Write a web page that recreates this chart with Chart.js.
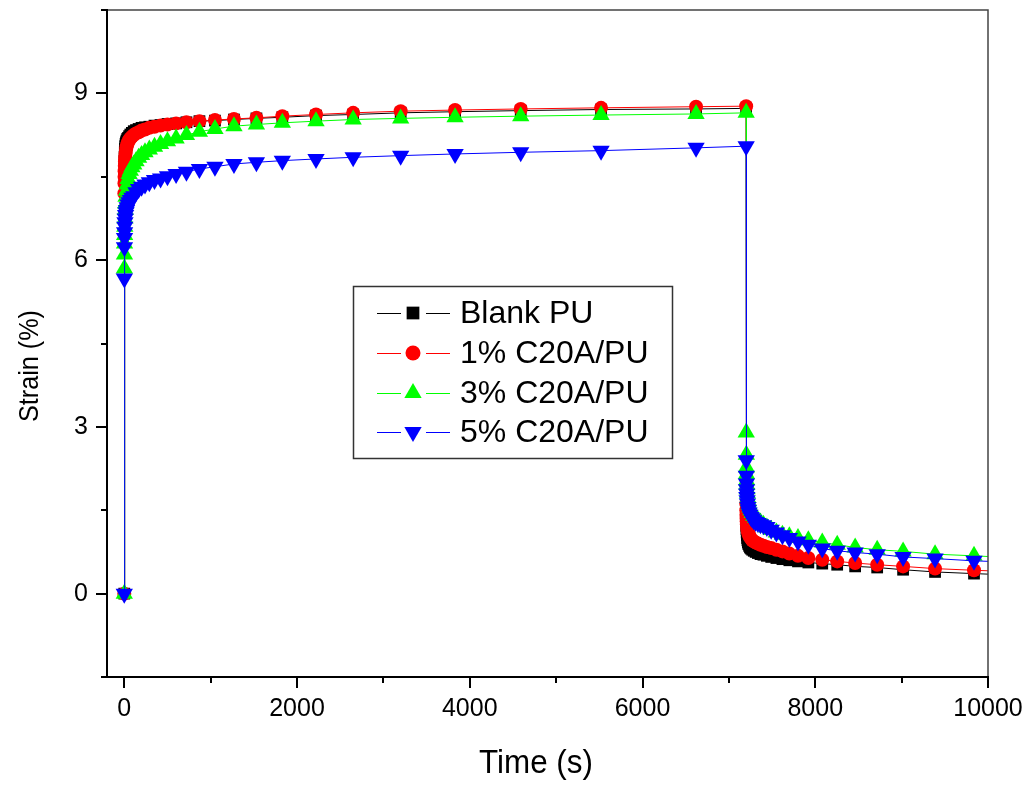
<!DOCTYPE html>
<html><head><meta charset="utf-8">
<script src="https://cdn.jsdelivr.net/npm/chart.js@4.4.0/dist/chart.umd.min.js"></script>
<style>html,body{margin:0;padding:0;background:#fff;}#wrap{position:relative;width:1031px;height:787px;}</style>
</head><body><div id="wrap"><canvas id="c" width="1031" height="787"></canvas></div>
<script>
// ---- data ----
const creepTimes = [0, 1, 2, 3, 4, 6, 8, 11, 15, 20, 26, 34, 44, 56, 70, 88, 110, 136, 166, 200, 240, 290, 350, 420, 500, 600, 720, 870, 1050, 1270, 1530, 1830, 2220, 2650, 3200, 3830, 4590, 5520, 6620, 7200];
const recoveryTimes = [7201, 7202, 7203, 7204, 7206, 7208, 7211, 7215, 7220, 7226, 7234, 7244, 7256, 7270, 7288, 7310, 7336, 7366, 7400, 7440, 7490, 7550, 7620, 7700, 7800, 7920, 8081, 8254, 8462, 8717, 9017, 9387, 9838, 10370];

const seriesNames = ['Blank PU', '1% C20A/PU', '3% C20A/PU', '5% C20A/PU'];

const blankCreep = [0, 7.45, 7.65, 7.78, 7.86, 7.94, 8.0, 8.05, 8.09, 8.12, 8.15, 8.18, 8.2, 8.23, 8.26, 8.29, 8.32, 8.34, 8.36, 8.38, 8.39, 8.4, 8.42, 8.43, 8.45, 8.46, 8.48, 8.5, 8.51, 8.53, 8.55, 8.57, 8.6, 8.62, 8.65, 8.67, 8.69, 8.71, 8.72, 8.73];
const blankRecovery = [1.4, 1.3, 1.22, 1.16, 1.1, 1.05, 1.0, 0.96, 0.92, 0.89, 0.86, 0.83, 0.81, 0.79, 0.77, 0.75, 0.73, 0.71, 0.7, 0.68, 0.66, 0.64, 0.62, 0.6, 0.58, 0.56, 0.54, 0.52, 0.49, 0.47, 0.43, 0.39, 0.36, 0.33];

const c1Creep = [0, 7.2, 7.38, 7.5, 7.6, 7.7, 7.78, 7.85, 7.92, 7.98, 8.03, 8.08, 8.12, 8.16, 8.19, 8.22, 8.25, 8.28, 8.3, 8.33, 8.35, 8.38, 8.4, 8.42, 8.44, 8.46, 8.48, 8.5, 8.52, 8.54, 8.56, 8.59, 8.62, 8.65, 8.68, 8.7, 8.72, 8.74, 8.76, 8.77];
const c1Recovery = [1.62, 1.5, 1.42, 1.36, 1.3, 1.25, 1.2, 1.16, 1.12, 1.08, 1.05, 1.02, 0.99, 0.96, 0.94, 0.92, 0.9, 0.88, 0.86, 0.84, 0.82, 0.79, 0.76, 0.72, 0.68, 0.64, 0.61, 0.58, 0.55, 0.52, 0.49, 0.45, 0.42, 0.39];

const c3Creep = [0, 5.85, 6.1, 6.3, 6.45, 6.6, 6.75, 6.9, 7.02, 7.14, 7.25, 7.36, 7.46, 7.55, 7.61, 7.67, 7.72, 7.78, 7.84, 7.89, 7.94, 7.99, 8.04, 8.09, 8.14, 8.19, 8.25, 8.31, 8.36, 8.41, 8.44, 8.47, 8.5, 8.53, 8.55, 8.57, 8.59, 8.61, 8.63, 8.65];
const c3Recovery = [2.9, 2.5, 2.27, 2.15, 2.04, 1.96, 1.88, 1.8, 1.72, 1.66, 1.6, 1.55, 1.5, 1.45, 1.4, 1.36, 1.32, 1.28, 1.24, 1.19, 1.15, 1.1, 1.06, 1.03, 1.0, 0.96, 0.92, 0.88, 0.83, 0.79, 0.76, 0.71, 0.68, 0.64];

const c5Creep = [0, 5.67, 6.23, 6.4, 6.5, 6.6, 6.68, 6.75, 6.81, 6.86, 6.9, 6.95, 7.0, 7.04, 7.08, 7.12, 7.15, 7.22, 7.28, 7.32, 7.36, 7.4, 7.44, 7.47, 7.51, 7.55, 7.59, 7.64, 7.68, 7.73, 7.76, 7.79, 7.82, 7.85, 7.88, 7.91, 7.94, 7.97, 8.02, 8.05];
const c5Recovery = [2.4, 2.12, 1.98, 1.88, 1.8, 1.74, 1.68, 1.62, 1.56, 1.51, 1.46, 1.42, 1.38, 1.35, 1.32, 1.29, 1.27, 1.25, 1.23, 1.2, 1.15, 1.1, 1.05, 1.0, 0.94, 0.88, 0.81, 0.77, 0.74, 0.71, 0.66, 0.63, 0.59, 0.56];

const xTickLabels = [0, 2000, 4000, 6000, 8000, 10000];
const xMinorTicks = [1000, 3000, 5000, 7000, 9000];
const yTickLabels = [0, 3, 6, 9];
const yMinorTicks = [-1.5, 1.5, 4.5, 7.5, 10.5];

// ---- build ----
const FONT = "'Liberation Sans', Arial, Helvetica, sans-serif";
const TARGET = {left: 107, top: 10, right: 988, bottom: 677};
const allTimes = creepTimes.concat(recoveryTimes);
function pts(creep, rec) { const v = creep.concat(rec); return allTimes.map((t, i) => ({x: t, y: v[i]})); }

const styles = [
  {color: '#000000', pointStyle: 'rect', radius: 8.3, legendRadius: 9, rotation: 0, order: 4},
  {color: '#ff0000', pointStyle: 'circle', radius: 7, legendRadius: 7.5, rotation: 0, order: 3},
  {color: '#00ff00', pointStyle: 'triangle', radius: 10, legendRadius: 10, rotation: 0, order: 2},
  {color: '#0000ff', pointStyle: 'triangle', radius: 10, legendRadius: 10, rotation: 180, order: 1}
];
const seriesData = [pts(blankCreep, blankRecovery), pts(c1Creep, c1Recovery), pts(c3Creep, c3Recovery), pts(c5Creep, c5Recovery)];

const datasets = seriesNames.map((name, i) => ({
  label: name,
  data: seriesData[i],
  showLine: true,
  borderColor: styles[i].color,
  backgroundColor: styles[i].color,
  borderWidth: 1,
  pointStyle: styles[i].pointStyle,
  pointRotation: styles[i].rotation,
  pointRadius: styles[i].radius,
  pointBorderWidth: 0,
  pointBackgroundColor: styles[i].color,
  pointHoverRadius: styles[i].radius,
  order: styles[i].order,
  tension: 0
}));

const decorPlugin = {
  id: 'decor',
  afterDraw(chart) {
    const ctx = chart.ctx, a = chart.chartArea, xs = chart.scales.x, ys = chart.scales.y;
    ctx.save();
    // frame
    ctx.strokeStyle = '#444'; ctx.lineWidth = 1.5;
    ctx.beginPath(); ctx.moveTo(a.left, a.top); ctx.lineTo(a.right, a.top); ctx.lineTo(a.right, a.bottom); ctx.stroke();
    ctx.strokeStyle = '#000'; ctx.lineWidth = 2;
    ctx.beginPath(); ctx.moveTo(a.left, a.top - 1); ctx.lineTo(a.left, a.bottom); ctx.lineTo(a.right + 1, a.bottom); ctx.stroke();
    // ticks
    ctx.lineWidth = 2;
    ctx.beginPath();
    yTickLabels.forEach(v => { const p = Math.round(ys.getPixelForValue(v)); ctx.moveTo(a.left, p); ctx.lineTo(a.left - 11, p); });
    yMinorTicks.forEach(v => { const p = Math.round(ys.getPixelForValue(v)); ctx.moveTo(a.left, p); ctx.lineTo(a.left - 6, p); });
    xTickLabels.forEach(v => { const p = Math.round(xs.getPixelForValue(v)); ctx.moveTo(p, a.bottom); ctx.lineTo(p, a.bottom + 11); });
    xMinorTicks.forEach(v => { const p = Math.round(xs.getPixelForValue(v)); ctx.moveTo(p, a.bottom); ctx.lineTo(p, a.bottom + 6); });
    ctx.stroke();
    // axis titles
    ctx.fillStyle = '#000';
    ctx.textAlign = 'center'; ctx.textBaseline = 'middle';
    ctx.save();
    ctx.translate(536, 764); ctx.scale(0.95, 1);
    ctx.font = '33px ' + FONT;
    ctx.fillText('Time (s)', 0, 0);
    ctx.restore();
    ctx.save();
    ctx.translate(30, 366); ctx.rotate(-Math.PI / 2); ctx.scale(0.9, 1);
    ctx.font = '28px ' + FONT;
    ctx.fillText('Strain (%)', 0, 0);
    ctx.restore();
    // legend
    const lx = 353, ly = 286, lw = 319, lh = 172;
    ctx.fillStyle = '#fff'; ctx.fillRect(lx, ly, lw, lh);
    ctx.strokeStyle = '#333'; ctx.lineWidth = 1.5; ctx.strokeRect(lx + 0.5, ly + 0.5, lw, lh);
    const rows = [313, 353, 393, 432];
    chart.data.datasets.forEach((ds, i) => {
      const y = rows[i];
      ctx.strokeStyle = ds.borderColor; ctx.lineWidth = 1;
      ctx.beginPath(); ctx.moveTo(377, y + 0.5); ctx.lineTo(401, y + 0.5); ctx.moveTo(426, y + 0.5); ctx.lineTo(450, y + 0.5); ctx.stroke();
      ctx.fillStyle = ds.pointBackgroundColor; ctx.strokeStyle = ds.pointBackgroundColor;
      Chart.helpers.drawPoint(ctx, {pointStyle: ds.pointStyle, rotation: ds.pointRotation, radius: styles[i].legendRadius, borderWidth: 0}, 413, y);
      ctx.fillStyle = '#000'; ctx.textAlign = 'left'; ctx.textBaseline = 'middle';
      ctx.font = '32px ' + FONT;
      ctx.fillText(ds.label, 460, y + 1);
    });
    ctx.restore();
  }
};

const pad = {left: 0, right: 43, top: 10, bottom: 0};
const chart = new Chart(document.getElementById('c'), {
  type: 'scatter',
  data: {datasets: datasets},
  options: {
    responsive: false,
    animation: false,
    devicePixelRatio: 1,
    layout: {padding: pad},
    plugins: {legend: {display: false}, tooltip: {enabled: false}},
    scales: {
      x: {
        type: 'linear', min: -200, max: 10000,
        afterBuildTicks: s => { s.ticks = xTickLabels.map(v => ({value: v})); },
        afterFit: s => { s.height = 110; s.paddingLeft = 0; s.paddingRight = 0; },
        grid: {display: false, drawTicks: false},
        border: {display: false},
        ticks: {color: '#000', font: {family: FONT, size: 25}, padding: 17, maxRotation: 0, autoSkip: false, callback: v => String(v)}
      },
      y: {
        type: 'linear', min: -1.5, max: 10.5,
        afterBuildTicks: s => { s.ticks = yTickLabels.map(v => ({value: v})); },
        afterFit: s => { s.width = 107; s.paddingTop = 0; s.paddingBottom = 0; },
        grid: {display: false, drawTicks: false},
        border: {display: false},
        ticks: {color: '#000', font: {family: FONT, size: 25}, padding: 19, autoSkip: false, callback: v => String(v)}
      }
    }
  },
  plugins: [decorPlugin]
});
// nudge layout padding so the plot area lands on the reference frame
for (let k = 0; k < 4; k++) {
  const a = chart.chartArea;
  const dT = TARGET.top - a.top, dL = TARGET.left - a.left, dR = a.right - TARGET.right, dB = a.bottom - TARGET.bottom;
  if (Math.abs(dT) < 0.5 && Math.abs(dL) < 0.5 && Math.abs(dR) < 0.5 && Math.abs(dB) < 0.5) break;
  pad.top += dT; pad.left += dL; pad.right += dR; pad.bottom += dB;
  chart.options.layout.padding = {left: pad.left, right: pad.right, top: pad.top, bottom: pad.bottom};
  chart.update('none');
}
</script></body></html>
